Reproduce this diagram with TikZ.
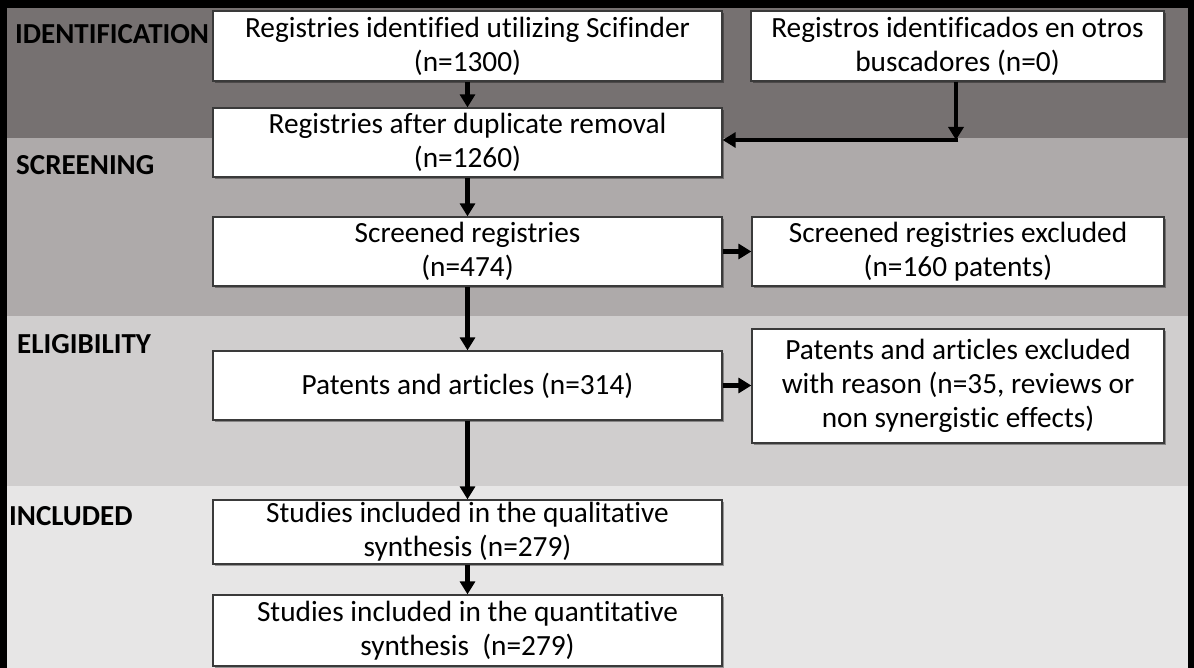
\documentclass[tikz,border=0pt]{standalone}
\usepackage{fontspec}
\setmainfont{Carlito}[Ligatures=NoCommon]
\usetikzlibrary{arrows.meta,shadows}
\definecolor{bandA}{HTML}{767171}
\definecolor{bandB}{HTML}{AEAAAA}
\definecolor{bandC}{HTML}{D0CECE}
\definecolor{bandD}{HTML}{E7E6E6}
\definecolor{boxline}{HTML}{3A3A3A}
\begin{document}
\begin{tikzpicture}[x=1pt,y=-1pt,
  box/.style={draw=boxline, line width=1.3pt, fill=white, align=center, inner sep=0pt,
    font=\fontsize{29.3}{34}\selectfont,
    drop shadow={shadow xshift=1.6pt, shadow yshift=-1.6pt, fill=black, opacity=0.35}},
  lbl/.style={anchor=west, inner sep=0pt, font=\fontsize{29}{34}\selectfont\bfseries},
  arr/.style={line width=4.6pt, -{Triangle[length=13pt,width=15pt]}}]
\useasboundingbox (0,0) rectangle (1194,668);
\fill[black] (0,0) rectangle (1194,668);
\fill[bandA] (7,8) rectangle (1188,138);
\fill[bandB] (7,138) rectangle (1188,316);
\fill[bandC] (7,316) rectangle (1188,486);
\fill[bandD] (7,486) rectangle (1188,668);

\node[lbl] (lid) at (15,34) {IDENTIFICATION};
\node[lbl] (lsc) at (16,165) {SCREENING};
\node[lbl] (lel) at (17,344) {ELIGIBILITY};
\node[lbl] (lin) at (9,516) {INCLUDED};

\node[box, minimum width=509pt, minimum height=70pt] (b1) at (467.5,46) {Registries identified utilizing Scifinder\\(n=1300)};
\node[box, minimum width=413pt, minimum height=70pt] (b2) at (957.5,46) {Registros identificados en otros\\buscadores (n=0)};
\node[box, minimum width=509pt, minimum height=69pt] (b3) at (467.5,142.5) {Registries after duplicate removal\\(n=1260)};
\node[box, minimum width=509pt, minimum height=69pt] (b4) at (467.5,251.5) {Screened registries\\(n=474)};
\node[box, minimum width=412pt, minimum height=69pt] (b5) at (958,251.5) {Screened registries excluded\\(n=160 patents)};
\node[box, minimum width=509pt, minimum height=69pt] (b6) at (467.5,385.5) {Patents and articles (n=314)};
\node[box, minimum width=412pt, minimum height=114pt] (b7) at (958,386) {Patents and articles excluded\\with reason (n=35, reviews or\\non synergistic effects)};
\node[box, minimum width=509pt, minimum height=64pt] (b8) at (467.5,532) {Studies included in the qualitative\\synthesis (n=279)};
\node[box, minimum width=509pt, minimum height=71pt] (b9) at (467.5,630.5) {Studies included in the quantitative\\synthesis\ \ (n=279)};

\coordinate (c) at (956,140);
\draw[arr] (b1) -- (b3);
\draw[arr] (b2.south -| c) -- (c);
\draw[arr] ([xshift=2.3pt]c) -- (c -| b3.east);
\draw[arr] (b3) -- (b4);
\draw[arr] (b4) -- (b5);
\draw[arr] (b4) -- (b6);
\draw[arr] (b6.east) -- (b6.east -| b7.west);
\draw[arr] (b6) -- (b8);
\draw[arr] (b8) -- (b9);
\end{tikzpicture}
\end{document}
